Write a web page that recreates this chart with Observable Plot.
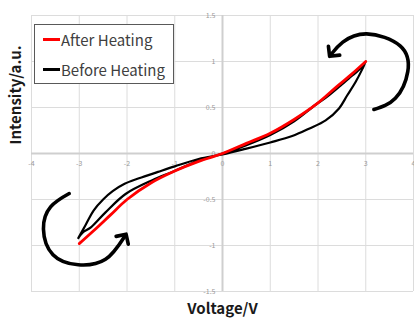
<!DOCTYPE html>
<html><head><meta charset="utf-8">
<script src="https://cdn.jsdelivr.net/npm/d3@7"></script>
<script src="https://cdn.jsdelivr.net/npm/@observablehq/plot@0.6"></script>
<style>
body{margin:0;background:#fff;}
#wrap{position:relative;width:414px;height:322px;font-family:"Noto Sans CJK JP","Noto Sans",sans-serif;}
#legend{position:absolute;left:34px;top:24px;width:138px;height:58px;border:1px solid #595959;background:#fff;}
.item{position:absolute;left:8px;height:20px;display:flex;align-items:center;font-size:15px;color:#404040;white-space:nowrap;}
.sw{width:17px;height:3px;margin-right:1px;}
</style></head>
<body>
<div id="wrap"></div>
<script>
// Data
const seriesNames = ["After Heating", "Before Heating"];
const seriesColors = ["#ff0000", "#000000"];

const afterX = [-3, -2.7, -2.35, -2, -1.5, -1, -0.5, 0, 0.5, 1, 1.5, 2, 2.4, 2.7, 3];
const afterY = [-0.98, -0.84, -0.67, -0.50, -0.32, -0.19, -0.085, 0, 0.11, 0.22, 0.37, 0.55, 0.73, 0.86, 1.0];

const beforeX = [-3.02, -2.87, -2.70, -2.50, -2.30, -2.05, -1.75, -1.35, -1.0, -0.5, 0,
                 0.48, 1.0, 1.46, 1.81, 2.16, 2.44, 2.61, 2.79, 2.93, 3.0,
                 2.93, 2.80, 2.72, 2.5, 2.2, 1.95, 1.5, 1.0, 0.5, 0,
                 -0.5, -1.05, -1.47, -2.03, -2.45, -2.75, -2.93, -3.02];
const beforeY = [-0.92, -0.78, -0.62, -0.50, -0.41, -0.33, -0.27, -0.20, -0.14, -0.06, -0.01,
                 0.05, 0.12, 0.19, 0.27, 0.36, 0.49, 0.63, 0.78, 0.92, 1.0,
                 0.95, 0.88, 0.85, 0.75, 0.62, 0.53, 0.35, 0.20, 0.09, 0,
                 -0.08, -0.20, -0.29, -0.44, -0.64, -0.80, -0.86, -0.92];

// curved arrow annotations (data coordinates)
const arrowTRx = [3.17, 3.62, 3.88, 3.72, 3.02, 2.52, 2.29];
const arrowTRy = [0.478, 0.60, 0.89, 1.17, 1.30, 1.21, 1.087];
const arrowBLx = [-3.21, -3.60, -3.75, -3.55, -3.02, -2.45, -2.06];
const arrowBLy = [-0.435, -0.58, -0.82, -1.10, -1.21, -1.15, -0.91];

const xTicks = [-4, -3, -2, -1, 0, 1, 2, 3, 4];
const xTickLabels = ["-4", "-3", "-2", "-1", "0", "1", "2", "3", "4"];
const yTicks = [-1.5, -1, -0.5, 0, 0.5, 1, 1.5];
const yTickLabels = ["-1.5", "-1", "-0.5", "0", "0.5", "1", "1.5"];

const xTitle = "Voltage/V";
const yTitle = "Intensity/a.u.";

const after = afterX.map((x, i) => ({x, y: afterY[i]}));
const before = beforeX.map((x, i) => ({x, y: beforeY[i]}));
const arrTR = arrowTRx.map((x, i) => ({x, y: arrowTRy[i]}));
const arrBL = arrowBLx.map((x, i) => ({x, y: arrowBLy[i]}));

const font = '"Noto Sans CJK JP","Noto Sans",sans-serif';

const chart = Plot.plot({
  width: 414,
  height: 322,
  marginLeft: 31,
  marginRight: 1,
  marginTop: 15,
  marginBottom: 31,
  x: {domain: [-4, 4], axis: null},
  y: {domain: [-1.5, 1.5], axis: null},
  style: {fontFamily: font, background: "#fff", overflow: "visible"},
  marks: [
    Plot.ruleX(xTicks, {stroke: "#dcdcdc", strokeWidth: 1}),
    Plot.ruleY(yTicks, {stroke: "#dcdcdc", strokeWidth: 1}),
    Plot.ruleX([0], {stroke: "#cfcfcf", strokeWidth: 2}),
    Plot.ruleY([0], {stroke: "#cfcfcf", strokeWidth: 2}),
    Plot.text(xTicks, {x: d => d, y: 0, dy: 10, text: (d, i) => xTickLabels[i], fontSize: 7, fill: "#999"}),
    Plot.text(yTicks, {x: 0, y: d => d, dx: -7, textAnchor: "end", text: (d, i) => yTickLabels[i], fontSize: 7, fill: "#999"}),
    Plot.line(before, {x: "x", y: "y", stroke: seriesColors[1], strokeWidth: 2.2, curve: "catmull-rom"}),
    Plot.line(after, {x: "x", y: "y", stroke: seriesColors[0], strokeWidth: 2.8, curve: "catmull-rom"}),
    Plot.line(arrTR, {x: "x", y: "y", stroke: "#000", strokeWidth: 3.6, curve: "natural", markerEnd: "arrow"}),
    Plot.line(arrBL, {x: "x", y: "y", stroke: "#000", strokeWidth: 3.6, curve: "natural", markerEnd: "arrow"}),
    Plot.text([xTitle], {frameAnchor: "bottom", dy: 22, text: d => d, fontSize: 15, fontWeight: "bold", fill: "#1a1a1a"}),
    Plot.text([yTitle], {frameAnchor: "left", dx: -15, dy: -9, rotate: -90, text: d => d, fontSize: 15, fontWeight: "bold", fill: "#1a1a1a"})
  ]
});

const wrap = document.getElementById("wrap");
wrap.appendChild(chart);

const legend = document.createElement("div");
legend.id = "legend";
seriesNames.forEach((name, i) => {
  const item = document.createElement("div");
  item.className = "item";
  item.style.top = (4 + i * 30) + "px";
  const sw = document.createElement("span");
  sw.className = "sw";
  sw.style.background = seriesColors[i];
  const t = document.createElement("span");
  t.textContent = name;
  item.appendChild(sw);
  item.appendChild(t);
  legend.appendChild(item);
});
wrap.appendChild(legend);
</script>
</body></html>
